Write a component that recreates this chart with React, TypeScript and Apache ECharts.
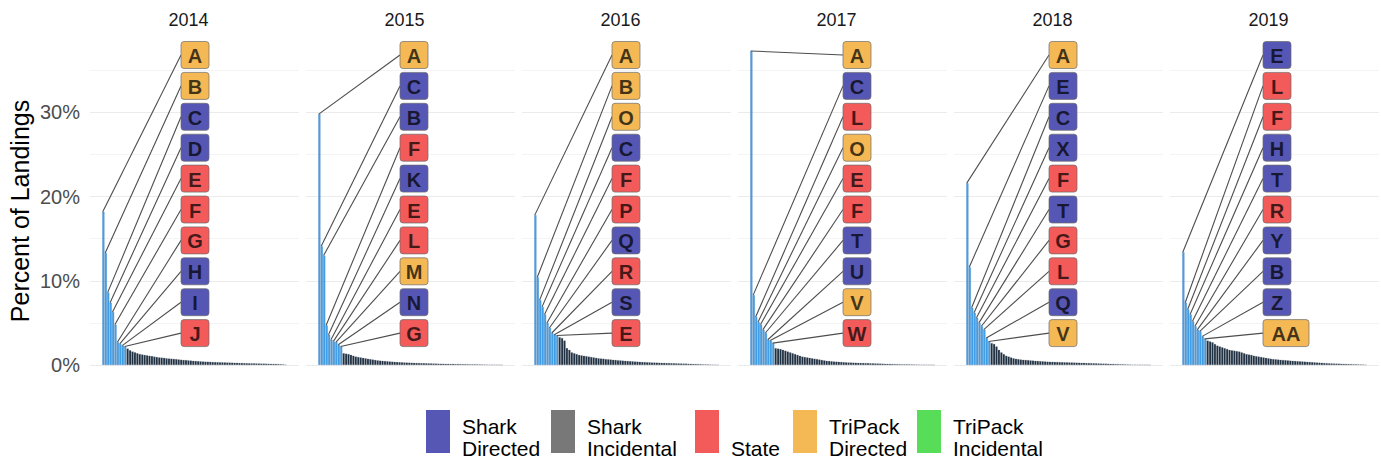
import React, { useEffect, useRef } from "react";
import * as echarts from "echarts";

// ---- data ---------------------------------------------------------------
const years = ["2014", "2015", "2016", "2017", "2018", "2019"];

// Share of landings (%) for the ten largest dealers each year, in rank order
const top2014 = [18.2, 13.3, 8.6, 7.4, 6.3, 4.8, 2.7, 2.5, 2.3, 2.2];
const top2015 = [29.8, 14.1, 13.0, 4.7, 3.6, 3.0, 2.8, 2.7, 2.4, 2.2];
const top2016 = [17.8, 10.4, 7.7, 6.9, 6.0, 5.0, 4.4, 3.8, 3.6, 3.5];
const top2017 = [37.3, 8.3, 5.7, 5.1, 4.8, 4.2, 3.8, 3.0, 2.9, 2.6];
const top2018 = [21.6, 11.6, 6.8, 6.2, 5.6, 5.0, 4.6, 4.2, 3.2, 2.8];
const top2019 = [13.4, 7.4, 6.6, 6.0, 5.2, 4.6, 4.2, 4.0, 3.4, 3.1];

// Remaining dealers (%), descending
const rest2014 = [
  1.95, 1.75, 1.6, 1.5, 1.4, 1.3, 1.25, 1.2, 1.15, 1.1,
  1.05, 1.0, 0.95, 0.9, 0.88, 0.85, 0.8, 0.78, 0.75, 0.72,
  0.7, 0.66, 0.63, 0.6, 0.58, 0.55, 0.53, 0.5, 0.48, 0.46,
  0.44, 0.42, 0.4, 0.39, 0.38, 0.36, 0.35, 0.34, 0.33, 0.32,
  0.31, 0.3, 0.29, 0.28, 0.27, 0.26, 0.25, 0.24, 0.23, 0.22,
  0.21, 0.2, 0.2, 0.19, 0.18, 0.17, 0.17, 0.16, 0.15, 0.15,
  0.14, 0.13, 0.12, 0.1, 0.08, 0.05,
];
const rest2015 = [
  1.4, 1.35, 1.3, 1.2, 1.1, 1.0, 0.95, 0.9, 0.85, 0.8,
  0.75, 0.7, 0.65, 0.6, 0.55, 0.52, 0.5, 0.47, 0.45, 0.42,
  0.4, 0.38, 0.36, 0.34, 0.32, 0.3, 0.29, 0.28, 0.27, 0.26,
  0.25, 0.24, 0.23, 0.22, 0.21, 0.2, 0.19, 0.18, 0.17, 0.16,
  0.15, 0.15, 0.14, 0.14, 0.13, 0.13, 0.12, 0.12, 0.11, 0.11,
  0.1, 0.1, 0.09, 0.09, 0.08, 0.08, 0.07, 0.07, 0.06, 0.06,
  0.05, 0.05, 0.04, 0.04, 0.03, 0.02,
];
const rest2016 = [
  3.3, 3.2, 2.9, 2.0, 1.8, 1.5, 1.4, 1.3, 1.2, 1.15,
  1.1, 1.05, 1.0, 0.95, 0.9, 0.85, 0.8, 0.78, 0.75, 0.7,
  0.68, 0.65, 0.62, 0.6, 0.57, 0.55, 0.52, 0.5, 0.48, 0.46,
  0.44, 0.42, 0.4, 0.38, 0.36, 0.35, 0.33, 0.32, 0.3, 0.29,
  0.28, 0.27, 0.26, 0.25, 0.24, 0.23, 0.22, 0.21, 0.2, 0.19,
  0.18, 0.17, 0.16, 0.15, 0.14, 0.13, 0.12, 0.11, 0.1, 0.09,
  0.08, 0.07, 0.06, 0.05, 0.04, 0.03,
];
const rest2017 = [
  2.0, 1.95, 1.9, 1.8, 1.7, 1.6, 1.5, 1.4, 1.3, 1.2,
  1.1, 1.0, 0.95, 0.9, 0.85, 0.8, 0.75, 0.7, 0.65, 0.6,
  0.55, 0.5, 0.48, 0.45, 0.42, 0.4, 0.38, 0.36, 0.34, 0.32,
  0.3, 0.29, 0.28, 0.27, 0.26, 0.25, 0.24, 0.23, 0.22, 0.21,
  0.2, 0.19, 0.18, 0.17, 0.16, 0.15, 0.14, 0.13, 0.12, 0.11,
  0.1, 0.1, 0.09, 0.09, 0.08, 0.08, 0.07, 0.07, 0.06, 0.06,
  0.05, 0.05, 0.04, 0.04, 0.03, 0.02,
];
const rest2018 = [
  2.6, 2.5, 2.2, 1.8, 1.5, 1.3, 1.1, 1.0, 0.9, 0.8,
  0.75, 0.7, 0.65, 0.62, 0.6, 0.58, 0.55, 0.52, 0.5, 0.48,
  0.46, 0.44, 0.42, 0.4, 0.39, 0.38, 0.37, 0.36, 0.35, 0.34,
  0.33, 0.32, 0.31, 0.3, 0.29, 0.28, 0.27, 0.26, 0.25, 0.24,
  0.23, 0.22, 0.21, 0.2, 0.19, 0.18, 0.17, 0.16, 0.15, 0.14,
  0.13, 0.12, 0.11, 0.1, 0.09, 0.08, 0.07, 0.06, 0.05, 0.05,
  0.04, 0.04, 0.03, 0.03, 0.02, 0.02,
];
const rest2019 = [
  2.9, 2.8, 2.7, 2.5, 2.3, 2.2, 2.1, 2.0, 1.9, 1.8,
  1.75, 1.7, 1.65, 1.6, 1.5, 1.4, 1.3, 1.25, 1.2, 1.1,
  1.05, 1.0, 0.95, 0.9, 0.85, 0.8, 0.75, 0.7, 0.68, 0.65,
  0.62, 0.6, 0.58, 0.55, 0.52, 0.5, 0.48, 0.46, 0.44, 0.42,
  0.4, 0.38, 0.36, 0.34, 0.32, 0.3, 0.28, 0.26, 0.24, 0.22,
  0.2, 0.19, 0.18, 0.17, 0.16, 0.15, 0.14, 0.13, 0.12, 0.11,
  0.1, 0.09, 0.08, 0.07, 0.06, 0.05,
];

// Dealer codes for the top ten, in rank order
const codes2014 = ["A", "B", "C", "D", "E", "F", "G", "H", "I", "J"];
const codes2015 = ["A", "C", "B", "F", "K", "E", "L", "M", "N", "G"];
const codes2016 = ["A", "B", "O", "C", "F", "P", "Q", "R", "S", "E"];
const codes2017 = ["A", "C", "L", "O", "E", "F", "T", "U", "V", "W"];
const codes2018 = ["A", "E", "C", "X", "F", "T", "G", "L", "Q", "V"];
const codes2019 = ["E", "L", "F", "H", "T", "R", "Y", "B", "Z", "AA"];

// Permit type of each top-ten dealer
const SD = "Shark Directed";
const SI = "Shark Incidental";
const ST = "State";
const TD = "TriPack Directed";
const TI = "TriPack Incidental";
const types2014 = [TD, TD, SD, SD, ST, ST, ST, SD, SD, ST];
const types2015 = [TD, SD, SD, ST, SD, ST, ST, TD, SD, ST];
const types2016 = [TD, TD, TD, SD, ST, ST, SD, ST, SD, ST];
const types2017 = [TD, SD, ST, TD, ST, ST, SD, SD, TD, ST];
const types2018 = [TD, SD, SD, SD, ST, SD, ST, ST, SD, TD];
const types2019 = [SD, ST, ST, SD, SD, ST, SD, SD, SD, TD];

const permitTypes = [SD, SI, ST, TD, TI];
const yTicks = [0, 10, 20, 30];

// ---- styling / layout ---------------------------------------------------
const typeColor: Record<string, string> = {
  [SD]: "#5657b4",
  [SI]: "#787878",
  [ST]: "#f35a5a",
  [TD]: "#f4b955",
  [TI]: "#57dd57",
};
const legendText: Record<string, string[]> = {
  [SD]: ["Shark", "Directed"],
  [SI]: ["Shark", "Incidental"],
  [ST]: ["", "State"],
  [TD]: ["TriPack", "Directed"],
  [TI]: ["TriPack", "Incidental"],
};
const FONT = "'Liberation Sans', Arial, Helvetica, sans-serif";
const PANEL_X0 = 90;
const PANEL_W = 209;
const PANEL_STEP = 216;
const GRID_TOP = 28.2;
const GRID_BOTTOM_Y = 365;
const PAD = 5; // empty slots on each side of the bars
const LABEL_LEFT = [91, 94, 90, 105, 95, 93];
const LABEL_TOP = 55;
const LABEL_STEP = 30.9;
const LEGEND_KEY_X = [426, 551, 695, 793, 917];

const HIGHLIGHT = "#45a5ee";
const BASE = "#1c2d3f";

const tops = [top2014, top2015, top2016, top2017, top2018, top2019];
const rests = [rest2014, rest2015, rest2016, rest2017, rest2018, rest2019];
const codes = [codes2014, codes2015, codes2016, codes2017, codes2018, codes2019];
const types = [types2014, types2015, types2016, types2017, types2018, types2019];

function buildOption() {
  const nBars = tops[0].length + rests[0].length;
  const cats: string[] = [];
  for (let k = 0; k < nBars + 2 * PAD; k++) cats.push(String(k));
  const padding = Array(PAD).fill("-");

  const panelLeft = (i: number) => PANEL_X0 + i * PANEL_STEP;

  const barSeries = years.map((_, i) => ({
    type: "bar",
    xAxisIndex: i,
    yAxisIndex: i,
    barCategoryGap: "8%",
    z: 2,
    data: [
      ...padding,
      ...tops[i].map((v) => ({
        value: v,
        itemStyle: {
          color: HIGHLIGHT,
          borderColor: "rgba(40,100,160,0.55)",
          borderWidth: 0.5,
        },
      })),
      ...rests[i].map((v) => ({
        value: v,
        itemStyle: {
          color: BASE,
          borderColor: "rgba(110,120,130,0.6)",
          borderWidth: 0.4,
        },
      })),
      ...padding,
    ],
  }));

  const labelSeries = years.map((_, i) => ({
    type: "custom",
    xAxisIndex: i,
    yAxisIndex: i,
    clip: false,
    z: 5,
    data: tops[i].map((v, k) => [PAD + k, v, k]),
    renderItem: (params: any, api: any) => {
      const k = api.value(2);
      const p = api.coord([api.value(0), api.value(1)]);
      const cs = params.coordSys;
      const text = codes[i][k];
      const w = 10 + 18 * text.length;
      const h = 27;
      const bx = cs.x + LABEL_LEFT[i];
      const cy = LABEL_TOP + k * LABEL_STEP;
      return {
        type: "group",
        children: [
          {
            type: "line",
            z2: 1,
            shape: { x1: p[0] - 0.6, y1: p[1], x2: bx, y2: cy },
            style: { stroke: "#4d4d4d", lineWidth: 1.1 },
          },
          {
            type: "rect",
            z2: 10,
            shape: { x: bx, y: cy - h / 2, width: w, height: h, r: 3 },
            style: {
              fill: typeColor[types[i][k]],
              stroke: "#6b6b6b",
              lineWidth: 0.7,
            },
          },
          {
            type: "text",
            z2: 11,
            style: {
              x: bx + w / 2,
              y: cy + 1,
              text,
              align: "center",
              verticalAlign: "middle",
              fill: "rgba(0,0,0,0.72)",
              font: `bold 20px ${FONT}`,
            },
          },
        ],
      };
    },
  }));

  const graphics: any[] = [];
  years.forEach((y, i) => {
    graphics.push({
      type: "text",
      x: panelLeft(i) + PANEL_W / 2 - 6,
      y: 20,
      style: {
        text: y,
        align: "center",
        verticalAlign: "middle",
        fill: "#1a1a1a",
        font: `18px ${FONT}`,
      },
    });
  });
  graphics.push({
    type: "text",
    x: 20,
    y: 211,
    rotation: Math.PI / 2,
    style: {
      text: "Percent of Landings",
      align: "center",
      verticalAlign: "middle",
      fill: "#000000",
      font: `25px ${FONT}`,
    },
  });
  permitTypes.forEach((t, j) => {
    const x = LEGEND_KEY_X[j];
    graphics.push({
      type: "rect",
      shape: { x, y: 410, width: 24, height: 43 },
      style: { fill: typeColor[t] },
    });
    legendText[t].forEach((line, r) => {
      if (!line) return;
      graphics.push({
        type: "text",
        x: x + 36,
        y: 426 + r * 22.5,
        style: {
          text: line,
          align: "left",
          verticalAlign: "middle",
          fill: "#000000",
          font: `21px ${FONT}`,
        },
      });
    });
  });

  return {
    animation: false,
    textStyle: { fontFamily: FONT },
    grid: years.map((_, i) => ({
      left: panelLeft(i),
      top: GRID_TOP,
      width: PANEL_W,
      height: GRID_BOTTOM_Y - GRID_TOP,
    })),
    xAxis: years.map((_, i) => ({
      type: "category",
      gridIndex: i,
      data: cats,
      boundaryGap: true,
      axisLine: { show: false },
      axisTick: { show: false },
      axisLabel: { show: false },
      splitLine: { show: false },
    })),
    yAxis: years.map((_, i) => ({
      type: "value",
      gridIndex: i,
      min: 0,
      max: 40,
      interval: 10,
      axisLine: { show: false },
      axisTick: { show: false },
      axisLabel: {
        show: i === 0,
        margin: 10,
        fontSize: 20,
        color: "#4d4d4d",
        fontFamily: FONT,
        formatter: (v: number) => (yTicks.includes(v) ? `${v}%` : ""),
      },
      splitLine: {
        show: true,
        showMaxLine: false,
        lineStyle: { color: "#ebebeb", width: 1.2 },
      },
      minorTick: { show: false, splitNumber: 2 },
      minorSplitLine: {
        show: true,
        lineStyle: { color: "#f1f1f1", width: 0.8 },
      },
    })),
    series: [...barSeries, ...labelSeries],
    graphic: graphics,
  };
}

export default function App() {
  const ref = useRef<HTMLDivElement>(null);
  useEffect(() => {
    if (!ref.current) return;
    const chart = echarts.init(ref.current, undefined, { renderer: "svg" });
    chart.setOption(buildOption() as any);
    return () => chart.dispose();
  }, []);
  return (
    <div
      ref={ref}
      style={{
        position: "fixed",
        left: 0,
        top: 0,
        width: 1381,
        height: 461,
        background: "#ffffff",
      }}
    />
  );
}
